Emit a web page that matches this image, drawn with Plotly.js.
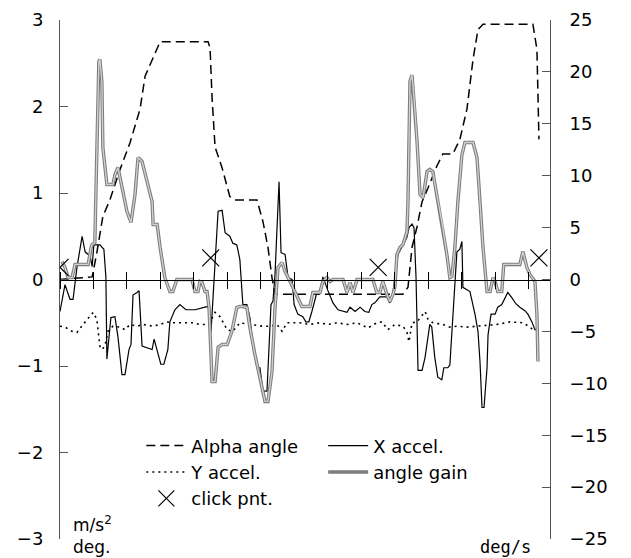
<!DOCTYPE html>
<html>
<head>
<meta charset="utf-8">
<script src="https://cdn.plot.ly/plotly-3.0.1.min.js"></script>
<style>
  html, body { margin: 0; padding: 0; background: #fff; }
  #chart { width: 631px; height: 558px; }
</style>
</head>
<body>
<div id="chart"></div>
<script>
// Time base in seconds for each recorded series
const alphaT = [0, 0.96, 1.10, 1.28, 1.49, 1.79, 2.09, 2.39, 2.54, 2.78, 2.99, 3.19, 4.42, 4.48, 4.54, 4.63, 4.84, 5.07, 5.22, 5.88, 6.06, 6.21, 6.33, 6.42, 10.24, 10.39, 10.51, 10.66, 10.81, 10.99, 11.25, 11.43, 11.73, 11.94, 12.15, 12.33, 12.48, 12.63, 14.12, 14.24, 14.27, 14.30];
// Alpha angle, deg (left axis)
const alphaAngle = [0, 0.03, 0.31, 0.73, 0.92, 1.27, 1.58, 1.97, 2.35, 2.57, 2.75, 2.75, 2.75, 2.68, 2.10, 1.53, 1.29, 0.96, 0.92, 0.92, 0.67, 0.37, 0.02, -0.17, -0.17, -0.09, 0.37, 0.61, 0.90, 1.06, 1.31, 1.45, 1.45, 1.62, 1.97, 2.54, 2.89, 2.95, 2.95, 2.66, 2.28, 1.62];

const xAccT = [0, 0.15, 0.30, 0.39, 0.51, 0.66, 0.75, 0.90, 0.96, 1.01, 1.19, 1.31, 1.37, 1.40, 1.52, 1.64, 1.73, 1.85, 1.94, 2.06,
  2.12, 2.18, 2.30, 2.36, 2.45, 2.60, 2.75, 2.81, 2.90, 3.01, 3.10, 3.22, 3.28, 3.43, 3.58, 3.76, 4.03, 4.27, 4.42, 4.48,
  4.51, 4.72, 4.84, 4.93, 5.07, 5.16, 5.28, 5.37, 5.46, 5.58, 5.67, 5.76, 5.88, 5.97, 6.06, 6.18, 6.30, 6.36, 6.42, 6.54,
  6.60, 6.72, 6.81, 6.93, 6.99, 7.10, 7.25, 7.34, 7.43, 7.52, 7.67, 7.76, 7.85, 7.99, 8.15, 8.30, 8.45, 8.57, 8.66, 8.81,
  8.96, 9.10, 9.22, 9.31, 9.40, 9.55, 9.76, 9.85, 9.94,
  10.09, 10.24, 10.36, 10.42, 10.51, 10.57, 10.63, 10.69, 10.81, 10.90, 10.99, 11.04, 11.10, 11.19, 11.28, 11.40, 11.46, 11.58,
  11.64, 11.70, 11.79, 11.85, 11.94, 12.00, 12.03, 12.15, 12.24, 12.39, 12.48, 12.54, 12.60, 12.66, 12.75, 12.78, 12.87, 12.99,
  13.07, 13.19, 13.28, 13.37, 13.49, 13.61, 13.73, 13.88, 13.97, 14.09, 14.18, 14.24];
// X acceleration, m/s^2 (left axis)
const xAccel = [-0.37, -0.06, -0.23, -0.23, 0.15, 0.50, 0.32, 0.27, 0.15, 0.40, 0.40, 0.35, 0.03, -0.92, -0.44, -0.43, -0.66, -1.10, -1.10, -0.81,
  -0.75, -0.18, -0.15, -0.13, -0.77, -0.79, -0.81, -0.69, -0.83, -0.98, -0.98, -0.81, -0.49, -0.35, -0.29, -0.35, -0.35, -0.32, -0.31, -0.46,
  -0.60, 0.79, 0.80, 0.54, 0.50, 0.42, 0.40, 0.23, -0.29, -0.29, -0.44, -0.75, -1.02, -1.02, -1.29, -1.29, -0.29, -0.25, 0.06, 1.13,
  0.31, 0.29, 0.02, 0.00, -0.29, -0.40, -0.43, -0.49, -0.49, -0.37, -0.15, -0.14, 0.03, -0.12, -0.27, -0.35, -0.37, -0.38, -0.32, -0.37,
  -0.32, -0.37, -0.38, -0.29, -0.27, -0.20, -0.20, -0.27, -0.15,
  0.29, 0.40, 0.49, 0.60, 0.64, 0.60, 0.02, -1.05, -1.05, -0.90, -0.64, -0.52, -0.55, -0.90, -1.13, -1.16, -1.02, -1.02,
  -0.99, -0.60, -0.02, 0.32, 0.35, 0.44, -0.09, -0.12, -0.14, -0.40, -0.60, -0.95, -1.48, -1.48, -1.02, -0.64, -0.40, -0.40,
  -0.32, -0.29, -0.21, -0.15, -0.21, -0.28, -0.32, -0.36, -0.40, -0.49, -0.58, -0.58];

const yAccT = [0, 0.15, 0.36, 0.51, 0.69, 0.90, 0.99, 1.10, 1.19, 1.25, 1.34, 1.43, 1.58, 1.79, 1.94, 2.09, 2.30, 2.48, 2.78, 2.99,
  3.19, 3.37, 3.58, 3.79, 3.97, 4.18, 4.39, 4.48, 4.63, 4.78, 4.99, 5.16, 5.37, 5.67, 6.06, 6.27, 6.48, 6.63, 6.78, 6.96,
  7.16, 7.46, 7.76, 8.00, 8.27, 8.57, 8.87, 9.19, 9.46, 9.61, 9.79, 10.00, 10.24, 10.36, 10.42, 10.51, 10.66, 10.90, 10.99, 11.13,
  11.43, 11.64, 11.85, 12.15, 12.45, 12.69, 13.04, 13.43, 13.82, 14.03, 14.18];
// Y acceleration, m/s^2 (left axis)
const yAccel = [-0.54, -0.55, -0.60, -0.61, -0.52, -0.43, -0.38, -0.46, -0.77, -0.81, -0.77, -0.60, -0.54, -0.55, -0.58, -0.52, -0.54, -0.52, -0.54, -0.52,
  -0.49, -0.50, -0.50, -0.50, -0.50, -0.52, -0.52, -0.49, -0.38, -0.43, -0.58, -0.60, -0.50, -0.52, -0.54, -0.54, -0.52, -0.60, -0.50, -0.50,
  -0.50, -0.52, -0.50, -0.52, -0.50, -0.52, -0.50, -0.56, -0.50, -0.49, -0.58, -0.52, -0.54, -0.61, -0.72, -0.50, -0.49, -0.37, -0.46, -0.50,
  -0.52, -0.55, -0.54, -0.55, -0.54, -0.54, -0.52, -0.49, -0.50, -0.55, -0.60];

const gainT = [0.06, 0.15, 0.24, 0.36, 0.45, 0.84, 0.93, 0.96, 1.04, 1.10,
  1.16, 1.19, 1.25, 1.28, 1.40, 1.58, 1.64, 1.73, 1.85, 2.00,
  2.12, 2.24, 2.33, 2.45, 2.60, 2.75, 2.78, 2.90, 2.99, 3.13,
  3.28, 3.37, 3.49, 3.94, 4.03, 4.12, 4.18, 4.24, 4.33, 4.39,
  4.45, 4.54, 4.63, 4.72, 4.84, 4.99, 5.13, 5.28, 5.37, 5.46,
  5.58, 5.67, 5.82, 5.97, 6.12, 6.21, 6.33, 6.42, 6.51, 6.63,
  6.72, 6.87, 7.01, 7.10, 7.22, 7.46, 7.55, 7.76, 7.85, 7.97,
  8.06, 8.15, 8.45, 8.57, 8.66, 8.75, 8.87, 9.34, 9.46, 9.55,
  9.64, 9.76, 9.85, 9.94, 10.00, 10.06, 10.15, 10.24, 10.36, 10.39,
  10.45, 10.51, 10.57, 10.66, 10.75, 10.84, 10.96, 11.04, 11.13, 11.25,
  11.40, 11.55, 11.64, 11.70, 11.79, 11.88, 12.00, 12.09, 12.33, 12.45,
  12.54, 12.63, 12.75, 12.84, 12.93, 12.99, 13.07, 13.19, 13.25, 13.73,
  13.82, 13.94, 14.03, 14.18, 14.24, 14.27];
// Angle gain, deg/s (right axis)
const angleGain = [1.73, 1.16, 0.19, 0.19, 1.45, 1.45, 3.08, 3.37, 3.56, 12.5,
  21.0, 21.2, 19.1, 12.7, 9.15, 9.15, 10.1, 10.8, 8.86, 6.55,
  5.49, 8.19, 11.75, 11.37, 9.44, 7.51, 5.30, 5.30, 3.08, 0.19,
  -1.16, -1.16, 0, 0, -1.16, -1.16, -0.19, -0.29, -1.16, -1.16,
  -2.70, -9.83, -9.83, -6.55, -6.26, -6.26, -5.01, -2.70, -2.60, -2.60,
  -2.70, -4.62, -7.23, -9.44, -11.75, -11.75, -8.86, -2.70, 1.16, 1.64,
  0.77, -0.19, -1.16, -1.73, -2.60, -2.60, -1.25, -1.25, -0.19, 0.19,
  -0.19, 0, 0, -1.25, -0.29, -1.25, 0, 0, -1.25, -1.25,
  -0.19, -1.45, -2.12, -1.45, -0.67, 2.41, 3.08, 3.37, 4.62, 7.51,
  19.1, 19.7, 17.5, 13.3, 8.19, 7.90, 10.4, 10.6, 10.4, 8.19,
  5.59, 2.41, 0.19, 0.29, 3.08, 7.51, 12.0, 13.2, 13.2, 11.75,
  7.51, 3.08, -1.16, -1.16, 0.19, -0.19, -1.16, -1.16, 1.45, 1.45,
  2.70, 1.16, 0.48, -0.19, -3.37, -7.90];

// Click points
const clickT = [0, 4.5, 9.5, 14.3];
const clickV = [0.14, 0.25, 0.14, 0.25];

// Axis tick values
const timeTicks = [0, 1, 2, 3, 4, 5, 6, 7, 8, 9, 10, 11, 12, 13, 14];
const leftTicks = [-3, -2, -1, 0, 1, 2, 3];
const rightTicks = [-25, -20, -15, -10, -5, 0, 5, 10, 15, 20, 25];

const FONT = 'DejaVu Sans';
const minusLabel = v => (v < 0 ? '\u2212' + Math.abs(v) : String(v));

const traces = [
  {
    x: gainT, y: angleGain, yaxis: 'y2', type: 'scatter', mode: 'lines',
    name: 'angle gain', legend: 'legend2', legendrank: 2,
    line: { color: '#7c7c7c', width: 3.4 }
  },
  {
    x: gainT, y: angleGain, yaxis: 'y2', type: 'scatter', mode: 'lines',
    name: 'angle gain core', legend: 'legend2', showlegend: false, hoverinfo: 'skip',
    line: { color: '#d2d2d2', width: 1.3 }
  },
  {
    x: alphaT, y: alphaAngle, type: 'scatter', mode: 'lines',
    name: 'Alpha angle', legend: 'legend', legendrank: 1,
    line: { color: '#000', width: 1.5, dash: '9px,5px' }
  },
  {
    x: yAccT, y: yAccel, type: 'scatter', mode: 'lines',
    name: 'Y accel.', legend: 'legend', legendrank: 2,
    line: { color: '#000', width: 1.6, dash: '2px,4px' }
  },
  {
    x: xAccT, y: xAccel, type: 'scatter', mode: 'lines',
    name: 'X accel.', legend: 'legend2', legendrank: 1,
    line: { color: '#000', width: 1.2 }
  },
  {
    x: clickT, y: clickV, xaxis: 'x2', type: 'scatter', mode: 'markers',
    name: 'click pnt.', legend: 'legend', legendrank: 3,
    marker: { symbol: 'x-thin-open', size: 17, color: '#000', line: { color: '#000', width: 1.2 } }
  }
];

const layout = {
  width: 631, height: 558,
  margin: { l: 60, r: 81, t: 20, b: 19 },
  paper_bgcolor: '#fff', plot_bgcolor: '#fff',
  font: { family: FONT, size: 18, color: '#000' },
  showlegend: true,
  xaxis: {
    range: [0, 14.63], tickvals: timeTicks, showticklabels: false,
    anchor: 'free', position: 0.5,
    showline: true, linecolor: '#000', linewidth: 1,
    ticks: 'outside', ticklen: 8, tickcolor: '#000', tickwidth: 1,
    showgrid: false, zeroline: false, fixedrange: true
  },
  xaxis2: {
    matches: 'x', overlaying: 'x', side: 'top',
    anchor: 'free', position: 0.5,
    range: [0, 14.63], tickvals: timeTicks, showticklabels: false,
    showline: false,
    ticks: 'outside', ticklen: 8, tickcolor: '#000', tickwidth: 1,
    showgrid: false, zeroline: false
  },
  yaxis: {
    range: [-3, 3], tickvals: leftTicks, ticktext: leftTicks.map(minusLabel),
    showline: true, linecolor: '#555', linewidth: 1,
    ticks: 'inside', ticklen: 8, tickcolor: '#555',
    ticklabelstandoff: 12,
    showgrid: false, zeroline: false,
    tickfont: { family: FONT, size: 18, color: '#000' }
  },
  yaxis2: {
    range: [-25, 25], tickvals: rightTicks, ticktext: rightTicks.map(minusLabel),
    overlaying: 'y', side: 'right', anchor: 'x',
    showline: true, linecolor: '#555', linewidth: 1,
    ticks: 'inside', ticklen: 8, tickcolor: '#555',
    ticklabelstandoff: 15,
    showgrid: false, zeroline: false,
    tickfont: { family: FONT, size: 18, color: '#000' }
  },
  legend: {
    x: 0.166, y: 0.215, xanchor: 'left', yanchor: 'top',
    bgcolor: 'rgba(0,0,0,0)', borderwidth: 0,
    font: { family: FONT, size: 18, color: '#000' },
    itemwidth: 40, tracegroupgap: 0
  },
  legend2: {
    x: 0.537, y: 0.215, xanchor: 'left', yanchor: 'top',
    bgcolor: 'rgba(0,0,0,0)', borderwidth: 0,
    font: { family: FONT, size: 18, color: '#000' },
    itemwidth: 40, tracegroupgap: 0
  },
  annotations: [
    {
      xref: 'paper', yref: 'paper', x: 0.022, y: -0.038,
      xanchor: 'left', yanchor: 'bottom', align: 'left', showarrow: false,
      text: 'm/s<sup>2</sup><br>deg.',
      font: { family: FONT, size: 17, color: '#000' }
    },
    {
      xref: 'paper', yref: 'paper', x: 0.965, y: -0.038,
      xanchor: 'right', yanchor: 'bottom', showarrow: false,
      text: 'deg/s',
      font: { family: 'DejaVu Sans Mono', size: 17, color: '#000' }
    }
  ]
};

Plotly.newPlot('chart', traces, layout, { displayModeBar: false, staticPlot: true });
</script>
</body>
</html>
